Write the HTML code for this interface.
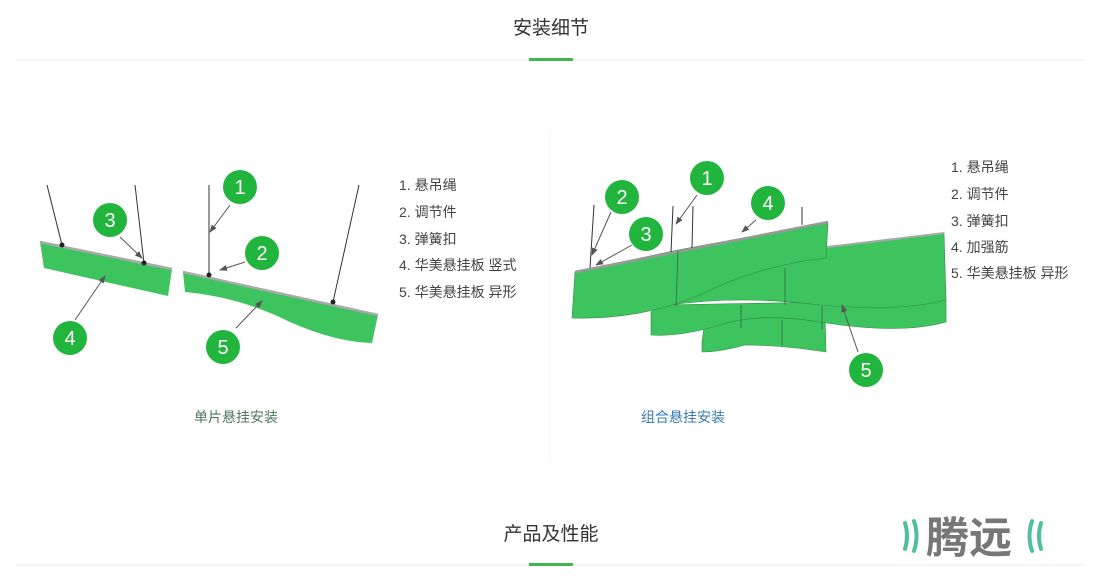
<!DOCTYPE html>
<html><head><meta charset="utf-8"><style>
html,body{margin:0;padding:0;background:#fff;width:1102px;height:583px;overflow:hidden}
svg{display:block}
text{font-family:"Liberation Sans","Noto Sans CJK SC",sans-serif}
</style></head><body>
<svg width="1102" height="583" viewBox="0 0 1102 583">
<defs><marker id="a" markerWidth="8" markerHeight="8" refX="7" refY="4" orient="auto"><path d="M0,1 L8,4 L0,7 z" fill="#555"/></marker></defs>
<text x="551" y="34" font-size="19" fill="#333" text-anchor="middle">安装细节</text>
<line x1="15" y1="60" x2="1085" y2="60" stroke="#eee" stroke-width="1"/>
<rect x="529" y="58" width="44" height="3" fill="#3cb84c"/>
<line x1="550" y1="130" x2="550" y2="462" stroke="#f0f0f0" stroke-width="1"/>

<!-- left -->
<g stroke="#333" stroke-width="1"><line x1="47" y1="185" x2="62" y2="245"/><line x1="135" y1="185" x2="144" y2="263"/><line x1="209" y1="185" x2="209" y2="275"/><line x1="359" y1="185" x2="333" y2="302"/></g>
<polygon points="40,242 172,269 168,296 44,268" fill="#3ec45e"/>
<line x1="40" y1="242" x2="172" y2="269" stroke="#aaa" stroke-width="2.5"/>
<path d="M183,272 L378,315 L372,343 Q335,342 290,322 Q240,297 185,292 Z" fill="#3ec45e"/>
<line x1="183" y1="272" x2="378" y2="315" stroke="#aaa" stroke-width="2.5"/>
<g fill="#222"><circle cx="62" cy="245" r="2.5"/><circle cx="144" cy="263" r="2.5"/><circle cx="209" cy="275" r="2.5"/><circle cx="333" cy="302" r="2.5"/></g>
<g stroke="#555" stroke-width="1" marker-end="url(#a)"><line x1="230" y1="205" x2="210" y2="232"/><line x1="245" y1="262" x2="220" y2="270"/><line x1="120" y1="237" x2="142" y2="258"/><line x1="75" y1="320" x2="105" y2="276"/><line x1="236" y1="328" x2="262" y2="301"/></g>
<g fill="#22b53e"><circle cx="240" cy="187" r="17"/><circle cx="262" cy="253" r="17"/><circle cx="110" cy="220" r="17"/><circle cx="70" cy="338" r="17"/><circle cx="223" cy="347" r="17"/></g>
<g fill="#fff" font-size="20" text-anchor="middle"><text x="240" y="194">1</text><text x="262" y="260">2</text><text x="110" y="227">3</text><text x="70" y="345">4</text><text x="223" y="354">5</text></g>
<g font-size="14" fill="#444"><text x="399" y="190">1.  悬吊绳</text><text x="399" y="217">2. 调节件</text><text x="399" y="244">3. 弹簧扣</text><text x="399" y="270">4. 华美悬挂板 竖式</text><text x="399" y="297">5. 华美悬挂板 异形</text></g>
<text x="236" y="422" font-size="14" fill="#4c7a5c" text-anchor="middle">单片悬挂安装</text>

<!-- right -->
<path d="M702,342 L705,320 L825,315 L826,352 Q780,345 745,345 Q720,352 702,352 Z" fill="#3ec45e" stroke="#2e8a45" stroke-width="0.6"/>
<path d="M651,312 L660,305 L946,300 L946,322 Q900,335 820,322 Q760,312 720,325 Q680,337 651,335 Z" fill="#3ec45e" stroke="#2e8a45" stroke-width="0.6"/>
<path d="M785,252 L944,233 L946,300 Q900,312 820,305 Q740,295 670,305 L700,280 Z" fill="#3ec45e" stroke="#2e8a45" stroke-width="0.6"/>
<line x1="785" y1="252" x2="944" y2="233" stroke="#aaa" stroke-width="2"/>
<path d="M575,272 L678,250 L828,222 L826,258 Q760,265 700,295 Q640,320 572,318 Z" fill="#3ec45e" stroke="#2e8a45" stroke-width="0.6"/>
<line x1="575" y1="272" x2="828" y2="222" stroke="#999" stroke-width="2.5"/>
<g stroke="#2e6b3e" stroke-width="0.8"><line x1="678" y1="251" x2="676" y2="306"/><line x1="785" y1="268" x2="785" y2="305"/><line x1="741" y1="305" x2="741" y2="328"/><line x1="822" y1="306" x2="822" y2="330"/><line x1="782" y1="320" x2="782" y2="345"/></g>
<g stroke="#333" stroke-width="1"><line x1="594" y1="205" x2="590" y2="268"/><line x1="673" y1="206" x2="671" y2="252"/><line x1="693" y1="206" x2="692" y2="248"/><line x1="802" y1="207" x2="802" y2="225"/></g>
<g stroke="#555" stroke-width="1" marker-end="url(#a)"><line x1="611" y1="212" x2="592" y2="255"/><line x1="632" y1="245" x2="596" y2="265"/><line x1="697" y1="195" x2="676" y2="224"/><line x1="756" y1="220" x2="742" y2="232"/><line x1="858" y1="352" x2="842" y2="305"/></g>
<g fill="#22b53e"><circle cx="707" cy="178" r="17"/><circle cx="622" cy="197" r="17"/><circle cx="646" cy="234" r="17"/><circle cx="768" cy="203" r="17"/><circle cx="866" cy="370" r="17"/></g>
<g fill="#fff" font-size="20" text-anchor="middle"><text x="707" y="185">1</text><text x="622" y="204">2</text><text x="646" y="241">3</text><text x="768" y="210">4</text><text x="866" y="377">5</text></g>
<g font-size="14" fill="#444"><text x="951" y="172">1.  悬吊绳</text><text x="951" y="199">2. 调节件</text><text x="951" y="226">3. 弹簧扣</text><text x="951" y="252">4. 加强筋</text><text x="951" y="278">5. 华美悬挂板 异形</text></g>
<text x="683" y="422" font-size="14" fill="#3a7ab0" text-anchor="middle">组合悬挂安装</text>

<!-- bottom -->
<text x="551" y="540" font-size="19" fill="#333" text-anchor="middle">产品及性能</text>
<line x1="15" y1="565" x2="1085" y2="565" stroke="#eee" stroke-width="1"/>
<rect x="529" y="563" width="44" height="3" fill="#3cb84c"/>
<g stroke="#4fbfa0" stroke-width="4" fill="none" stroke-linecap="round"><path d="M905,523 Q909,536 905,549"/><path d="M914,521 Q919,536 914,551"/><path d="M1032,521 Q1027,536 1032,551"/><path d="M1041,523 Q1037,536 1041,549"/></g>
<text x="926" y="553" font-size="43" font-weight="bold" fill="#777">腾远</text>
</svg>
</body></html>
